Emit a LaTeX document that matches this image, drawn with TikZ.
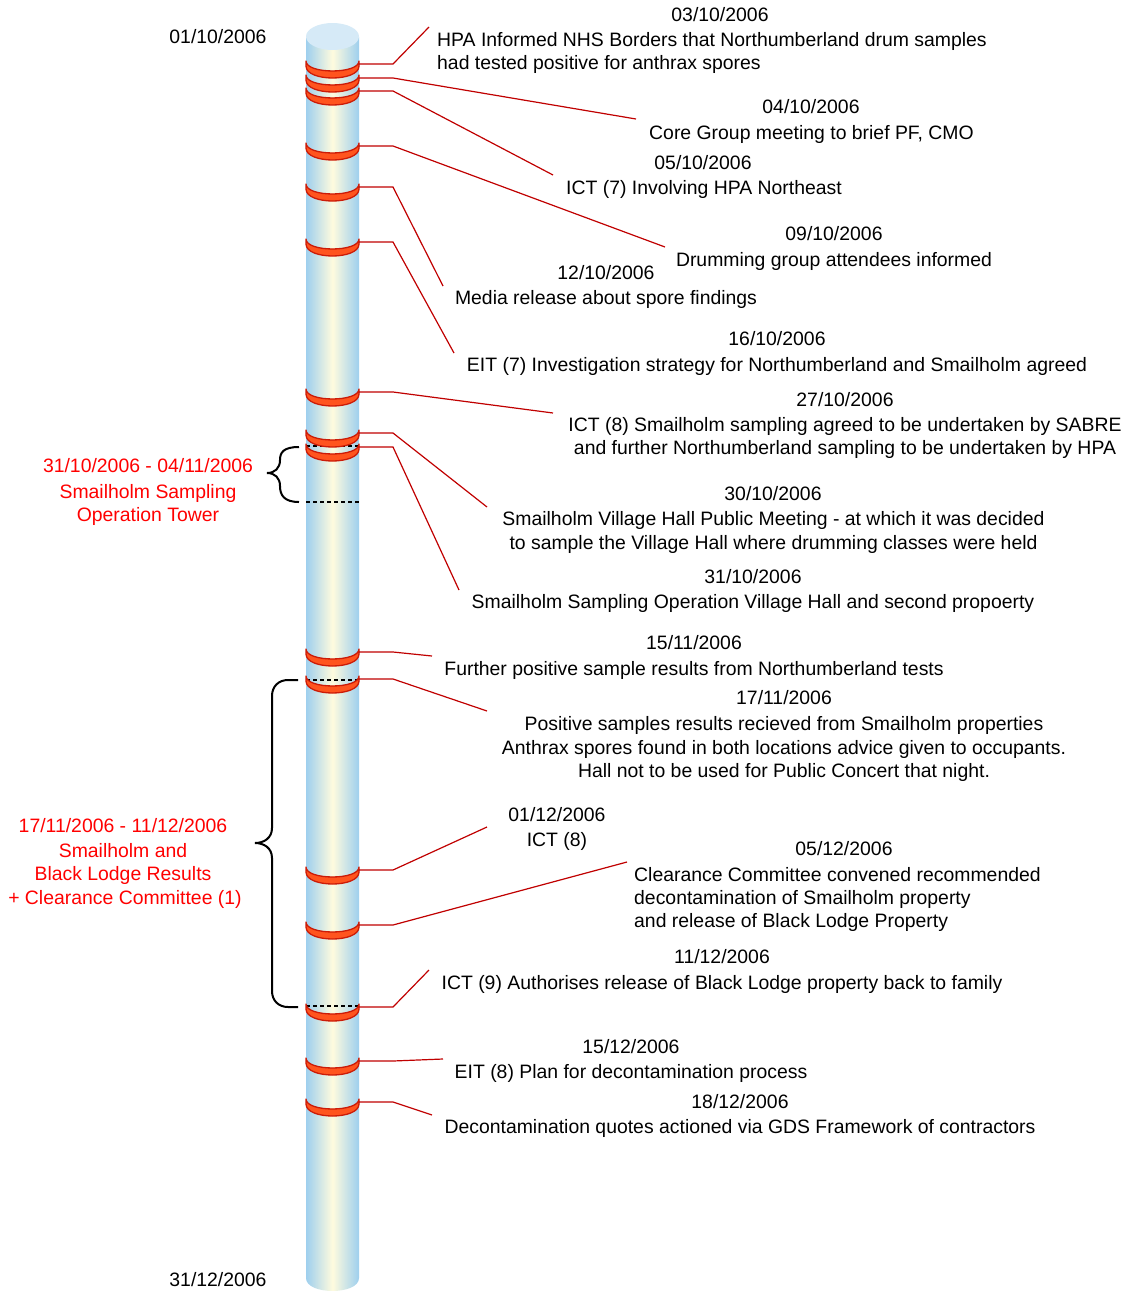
\documentclass[tikz,border=0pt]{standalone}
\usepackage{fontspec}
\setmainfont{Liberation Sans}
\definecolor{leadred}{RGB}{192,0,0}
\definecolor{grpred}{RGB}{255,0,0}
\definecolor{cylblue}{RGB}{158,207,238}
\definecolor{cylcream}{RGB}{255,251,222}
\definecolor{captop}{RGB}{214,234,247}
\definecolor{ringdark}{RGB}{204,28,8}
\definecolor{ringlight}{RGB}{255,84,30}
\begin{document}
\begin{tikzpicture}[x=1pt,y=-1pt,
  lbl/.style={font=\fontsize{19.4}{23}\selectfont, inner sep=0pt, anchor=base},
  lblw/.style={lbl, anchor=base west},
  grp/.style={lbl, text=grpred},
  leader/.style={draw=leadred, line width=1.2pt},
  ringband/.style={fill=ringlight, draw=ringdark, line width=1.3pt, line join=round},
  sep/.style={draw=black, dashed, dash pattern=on 4pt off 3pt, line width=1.1pt},
  bracel/.style={draw=black, line width=2pt}]
\useasboundingbox (0,0) rectangle (1126,1291);
% cylinder body
\shade[left color=cylblue, right color=cylblue, middle color=cylcream]
  (306,37) -- (306,1278) .. controls (306,1295.3) and (359,1295.3) .. (359,1278) -- (359,37) -- cycle;
\fill[captop] (332.5,36.5) ellipse [x radius=26.5, y radius=13.5];
% dashed separators
\foreach \y in {446,502,680,1006} {
  \draw[sep] (306,\y) -- (359,\y);
}
% rings and leaders
\foreach \i/\y/\ex/\ey in {1/64/429/27, 2/78/636/119, 3/91/553/175, 4/146/665/247,
  5/187/443/286, 6/242/454/353, 7/392/553/413, 8/433/487/507, 9/447/459/590,
  10/652/432/656, 11/679/487/711, 12/870/487/827, 13/925/627/862,
  14/1007/429/970, 15/1061/443/1059, 16/1102/432/1115} {
  \coordinate (l\i) at (306,\y-3);
  \coordinate (r\i) at (359,\y);
  \coordinate (b\i) at (393,\y);
  \coordinate (e\i) at (\ex,\ey);
  \draw[ringband] (l\i) .. controls (306,\y+10.3) and (359,\y+10.3) .. (359,\y-3)
     -- (359,\y+2) .. controls (359,\y+18) and (306,\y+18) .. (306,\y+2) -- cycle;
  \draw[leader] (r\i) -- (b\i) -- (e\i);
}
% braces
\draw[bracel] (299,447) .. controls (284,447) and (280,452) .. (280,460)
  .. controls (280,468) and (275,473) .. (267,473)
  .. controls (275,473) and (280,478) .. (280,486)
  .. controls (280,495) and (284,502) .. (299,502);
\draw[bracel] (298,680) -- (288,680) .. controls (279,680) and (272,686) .. (272,696)
  -- (272,828) .. controls (272,838) and (264,843) .. (255,843)
  .. controls (264,843) and (272,848) .. (272,858)
  -- (272,991) .. controls (272,1001) and (279,1007) .. (288,1007) -- (298,1007);
% start / end dates
\node[lbl] (start) at (218,43) {01/10/2006};
\node[lbl] (end) at (218,1286) {31/12/2006};
% events
\node[lbl] (d1) at (720,21) {03/10/2006};
\node[lblw] (t1a) at (437,46) {HPA Informed NHS Borders that Northumberland drum samples};
\node[lblw] (t1b) at (437,69) {had tested positive for anthrax spores};
\node[lbl] (d2) at (811,113) {04/10/2006};
\node[lbl] (t2) at (811.5,139) {Core Group meeting to brief PF, CMO};
\node[lbl] (d3) at (703,169) {05/10/2006};
\node[lbl] (t3) at (704,194) {ICT (7) Involving HPA Northeast};
\node[lbl] (d4) at (834,240) {09/10/2006};
\node[lbl] (t4) at (834,266) {Drumming group attendees informed};
\node[lbl] (d5) at (606,279) {12/10/2006};
\node[lbl] (t5) at (606,304) {Media release about spore findings};
\node[lbl] (d6) at (777,345) {16/10/2006};
\node[lbl] (t6) at (777,371) {EIT (7) Investigation strategy for Northumberland and Smailholm agreed};
\node[lbl] (d7) at (845,406) {27/10/2006};
\node[lbl] (t7a) at (845,431) {ICT (8) Smailholm sampling agreed to be undertaken by SABRE};
\node[lbl] (t7b) at (845,454) {and further Northumberland sampling to be undertaken by HPA};
\node[lbl] (d8) at (773,500) {30/10/2006};
\node[lbl] (t8a) at (773.5,525) {Smailholm Village Hall Public Meeting - at which it was decided};
\node[lbl] (t8b) at (773.5,549) {to sample the Village Hall where drumming classes were held};
\node[lbl] (d9) at (753,583) {31/10/2006};
\node[lbl] (t9) at (753,608) {Smailholm Sampling Operation Village Hall and second propoerty};
\node[lbl] (d10) at (694,649) {15/11/2006};
\node[lbl] (t10) at (694,675) {Further positive sample results from Northumberland tests};
\node[lbl] (d11) at (784,704) {17/11/2006};
\node[lbl] (t11a) at (784,730) {Positive samples results recieved from Smailholm properties};
\node[lbl] (t11b) at (784,754) {Anthrax spores found in both locations advice given to occupants.};
\node[lbl] (t11c) at (784,777) {Hall not to be used for Public Concert that night.};
\node[lbl] (d12) at (557,821) {01/12/2006};
\node[lbl] (t12) at (557,846) {ICT (8)};
\node[lbl] (d13) at (844,855) {05/12/2006};
\node[lblw] (t13a) at (634,881) {Clearance Committee convened recommended};
\node[lblw] (t13b) at (634,904) {decontamination of Smailholm property};
\node[lblw] (t13c) at (634,927) {and release of Black Lodge Property};
\node[lbl] (d14) at (722,963) {11/12/2006};
\node[lbl] (t14) at (722,989) {ICT (9) Authorises release of Black Lodge property back to family};
\node[lbl] (d15) at (631,1053) {15/12/2006};
\node[lbl] (t15) at (631,1078) {EIT (8) Plan for decontamination process};
\node[lbl] (d16) at (740,1108) {18/12/2006};
\node[lbl] (t16) at (740,1133) {Decontamination quotes actioned via GDS Framework of contractors};
% group labels
\node[grp] (g1a) at (148,472) {31/10/2006 - 04/11/2006};
\node[grp] (g1b) at (148,498) {Smailholm Sampling};
\node[grp] (g1c) at (148,521) {Operation Tower};
\node[grp] (g2a) at (123,832) {17/11/2006 - 11/12/2006};
\node[grp] (g2b) at (123,857) {Smailholm and};
\node[grp] (g2c) at (123,880) {Black Lodge Results};
\node[grp] (g2d) at (125,904) {+ Clearance Committee (1)};
\end{tikzpicture}
\end{document}
